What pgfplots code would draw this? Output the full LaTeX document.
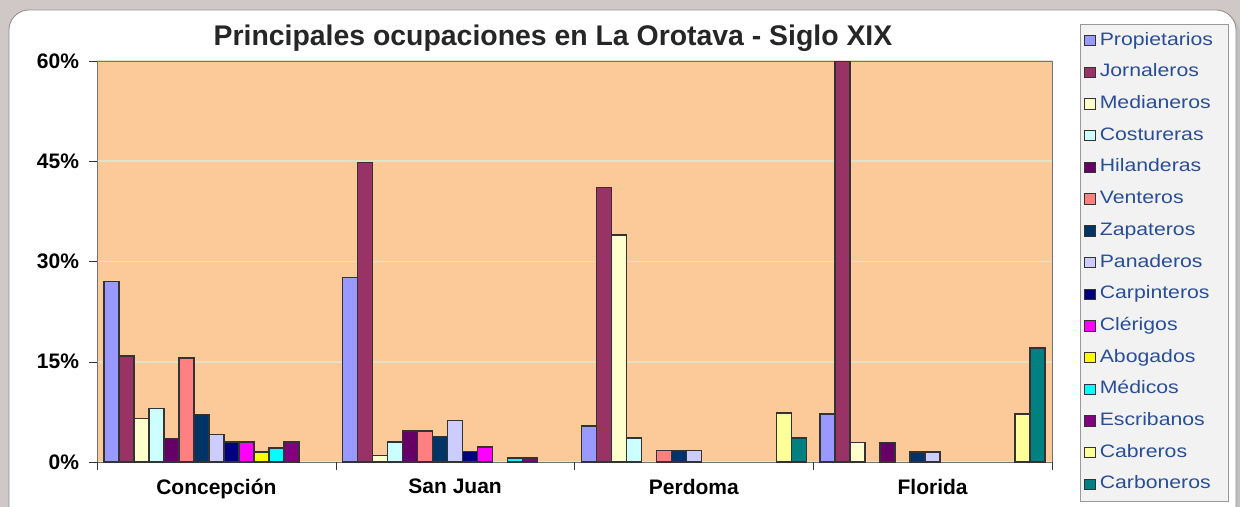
\documentclass[border=0pt]{standalone}
\usepackage{pgfplots}
\pgfplotsset{compat=1.18}
\usepackage{fontspec}
\setmainfont{Liberation Sans}
\newfontfamily\legfont[FakeStretch=1.18]{Liberation Sans}

\definecolor{frame}{HTML}{D0C8C6}
\definecolor{peach}{HTML}{FCC998}
\definecolor{gridc}{HTML}{E4E2C6}
\definecolor{legtext}{HTML}{2A4E96}
\definecolor{c1}{HTML}{9999FF}
\definecolor{c2}{HTML}{993366}
\definecolor{c3}{HTML}{FFFFCC}
\definecolor{c4}{HTML}{CCFFFF}
\definecolor{c5}{HTML}{660066}
\definecolor{c6}{HTML}{FF8080}
\definecolor{c7}{HTML}{003366}
\definecolor{c8}{HTML}{CCCCFF}
\definecolor{c9}{HTML}{000080}
\definecolor{c10}{HTML}{FF00FF}
\definecolor{c11}{HTML}{FFFF00}
\definecolor{c12}{HTML}{00FFFF}
\definecolor{c13}{HTML}{800080}
\definecolor{c14}{HTML}{FFFF99}
\definecolor{c15}{HTML}{008080}

\begin{document}
\begin{tikzpicture}
% page frame, 1 px = 0.5pt
\begin{scope}[x=0.5pt,y=-0.5pt]
  \useasboundingbox (0,0) rectangle (1240,507);
  \fill[frame] (0,0) rectangle (1240,507);
  \fill[black!25] (13,14) [rounded corners=10pt] rectangle (1240,530);
  \filldraw[white, draw=black!45, rounded corners=10pt] (9,10) rectangle (1236,530);
  \node[font=\bfseries\fontsize{14.2}{16}\selectfont, text=black!85] at (553,38)
    {Principales ocupaciones en La Orotava - Siglo XIX};
\end{scope}

\begin{axis}[
  at={(48.5pt,-231pt)}, anchor=south west,
  scale only axis,
  width=477.5pt, height=200.5pt,
  ybar=0pt, bar width=7.5pt,
  xmin=-0.5, xmax=3.5,
  ymin=0, ymax=60,
  axis background/.style={fill=peach},
  axis line style={draw=black!55},
  tick align=outside,
  xtick pos=bottom, ytick pos=left,
  xtick={0,1,2,3},
  xticklabels={Concepción, San Juan, Perdoma, Florida},
  major x tick style={draw=none},
  extra x ticks={-0.5,0.5,1.5,2.5,3.5},
  extra x tick labels={},
  extra x tick style={grid=none, major tick length=4pt, major x tick style={draw=black!80}},
  xticklabel style={font=\bfseries\fontsize{10.5}{12}\selectfont, yshift=-1pt},
  ytick={0,15,30,45,60},
  yticklabel={\pgfmathprintnumber{\tick}\%},
  /pgf/number format/assume math mode=true,
  yticklabel style={font=\bfseries\fontsize{10.5}{12}\selectfont, xshift=-1.5pt},
  major tick length=4pt,
  ytick style={draw=black!80},
  ymajorgrids,
  major grid style={draw=gridc, line width=0.8pt},
  every axis plot/.append style={draw=black!80, line width=0.8pt},
  legend style={at={(1.0293,1.093)}, anchor=north west,
    fill=black!5, draw=black!40,
    font=\legfont\fontsize{9}{10}\selectfont, text=legtext,
    row sep=3.35pt, inner sep=2pt,
    nodes={text height=6.5pt, text depth=2pt, inner sep=2pt},
    /tikz/column 2/.style={nodes={text width=60.5pt}}},
  legend cell align=left,
  legend image code/.code={\draw[#1, draw=black!80, line width=0.5pt] (0pt,-2.6pt) rectangle (5.2pt,2.6pt);},
]
\addplot[fill=c1] coordinates {(0,27.0) (1,27.6) (2,5.4) (3,7.2)};
\addplot[fill=c2] coordinates {(0,15.9) (1,44.8) (2,41.1) (3,60.0)};
\addplot[fill=c3] coordinates {(0,6.5) (1,1.0) (2,34.0) (3,2.9)};
\addplot[fill=c4] coordinates {(0,8.0) (1,3.0) (2,3.6)};
\addplot[fill=c5] coordinates {(0,3.5) (1,4.6) (3,2.9)};
\addplot[fill=c6] coordinates {(0,15.6) (1,4.6) (2,1.7)};
\addplot[fill=c7] coordinates {(0,7.1) (1,3.8) (2,1.7) (3,1.5)};
\addplot[fill=c8] coordinates {(0,4.1) (1,6.2) (2,1.7) (3,1.5)};
\addplot[fill=c9] coordinates {(0,3.0) (1,1.6)};
\addplot[fill=c10] coordinates {(0,3.0) (1,2.2)};
\addplot[fill=c11] coordinates {(0,1.5)};
\addplot[fill=c12] coordinates {(0,2.1) (1,0.6)};
\addplot[fill=c13] coordinates {(0,3.0) (1,0.6)};
\addplot[fill=c14] coordinates {(2,7.3) (3,7.2)};
\addplot[fill=c15] coordinates {(2,3.6) (3,17.1)};
\legend{Propietarios, Jornaleros, Medianeros, Costureras, Hilanderas, Venteros, Zapateros, Panaderos, Carpinteros, Clérigos, Abogados, Médicos, Escribanos, Cabreros, Carboneros}
\end{axis}
\end{tikzpicture}
\end{document}
